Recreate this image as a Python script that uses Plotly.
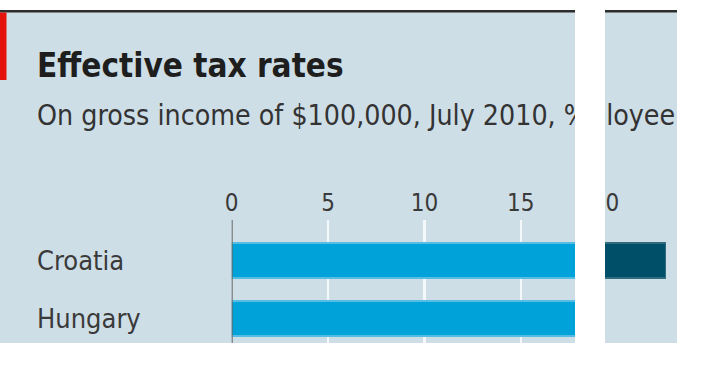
import plotly.graph_objects as go

# ---- data ----
categories = ["Croatia", "Hungary"]
tax_main = [19.5, 18.8]        # light blue segment, %
tax_extra = [3.6, None]        # dark segment, %
tick_vals = [0, 5, 10, 15, 20]
tick_text = ["0", "5", "10", "15", "20"]
title_text = "Effective tax rates"
subtitle_left = "On gross income of $100,000, July 2010, %"
subtitle_right = "ployee"

W, H = 707, 383
BG = "#cedee7"
FONT = "Liberation Sans Narrow, DejaVu Sans Condensed, Arial Narrow, sans-serif"


def px(x):
    return x / W


def py(y):
    return 1 - y / H


fig = go.Figure()
# the chart is shown as two spliced pieces: left (x) and right (x2)
for xa in ["x", "x2"]:
    fig.add_trace(go.Bar(
        y=categories, x=tax_main, orientation="h", width=0.6, xaxis=xa, yaxis="y",
        marker=dict(color="#00a2da", line=dict(color="#55bde3", width=1.5)),
        showlegend=False, hoverinfo="skip",
    ))
    fig.add_trace(go.Bar(
        y=categories, x=tax_extra, orientation="h", width=0.6, xaxis=xa, yaxis="y",
        marker=dict(color="#004f69", line=dict(color="#2f6c80", width=1.5)),
        showlegend=False, hoverinfo="skip",
    ))

scale = 19.27  # px per percentage point
x0_px, x_cut = 231.7, 575
x2_start_px, x2_end_px, x2_start_val = 605, 677, 19.97

axis_common = dict(
    side="top", tickvals=tick_vals, ticktext=tick_text,
    showgrid=True, gridcolor="#f4f8fa", gridwidth=2.5,
    zeroline=False, showline=False, ticks="", ticklabelstandoff=3,
    tickfont=dict(family=FONT, size=24, color="#3a3a3a"),
    fixedrange=True, automargin=False,
)
fig.update_layout(
    xaxis=dict(domain=[px(x0_px), px(x_cut)],
               range=[0, (x_cut - x0_px) / scale], anchor="y", **axis_common),
    xaxis2=dict(domain=[px(x2_start_px), px(x2_end_px)],
                range=[x2_start_val, x2_start_val + (x2_end_px - x2_start_px) / scale],
                anchor="y", **axis_common),
    yaxis=dict(domain=[py(343), py(220)],
               range=[1.422, -0.698], type="category",
               showticklabels=False, showgrid=False, zeroline=False, ticks="",
               fixedrange=True, automargin=False),
)

shapes = [
    # background panel
    dict(type="rect", xref="paper", yref="paper", x0=0, x1=1, y0=py(343), y1=py(11),
         fillcolor=BG, line_width=0, layer="below"),
    # zero line
    dict(type="line", xref="x", yref="paper", x0=0, x1=0, y0=py(343), y1=py(220),
         line=dict(color="#6b6b6b", width=2), layer="above"),
    # top rule
    dict(type="rect", xref="paper", yref="paper", x0=0, x1=1, y0=py(12.5), y1=py(10),
         fillcolor="#2d2d2d", line_width=0, layer="above"),
    # red tab
    dict(type="rect", xref="paper", yref="paper", x0=0, x1=px(6.5), y0=py(80), y1=py(12.5),
         fillcolor="#e3120b", line_width=0, layer="above"),
    # bottom white
    dict(type="rect", xref="paper", yref="paper", x0=0, x1=1, y0=0, y1=py(343),
         fillcolor="white", line_width=0, layer="above"),
]

annotations = [
    dict(text="<b>" + title_text + "</b>", xref="paper", yref="paper",
         x=px(35), y=py(66), xanchor="left", yanchor="middle", showarrow=False,
         font=dict(family=FONT, size=33, color="#1e1e1e")),
    dict(text=subtitle_left, xref="paper", yref="paper",
         x=px(35), y=py(115), xanchor="left", yanchor="middle", showarrow=False,
         font=dict(family=FONT, size=28.3, color="#333333")),
    dict(text=subtitle_right, xref="paper", yref="paper",
         x=px(677), y=py(115), xanchor="right", yanchor="middle", showarrow=False,
         font=dict(family=FONT, size=28.3, color="#333333")),
]
for cat in categories:
    annotations.append(dict(
        text=cat, xref="paper", yref="y", x=px(35), y=cat,
        xanchor="left", yanchor="middle", showarrow=False,
        font=dict(family=FONT, size=27, color="#3a3a3a")))

# white cut-outs (drawn on top of everything)
for xa, xb in [(575, 605), (677, 707)]:
    annotations.append(dict(
        text=" ", xref="paper", yref="paper", x=px(xa), y=1,
        xanchor="left", yanchor="top", showarrow=False,
        width=xb - xa, height=H, bgcolor="white", borderpad=0, borderwidth=0))

fig.update_layout(
    width=W, height=H, margin=dict(l=0, r=0, t=0, b=0, autoexpand=False),
    paper_bgcolor="white", plot_bgcolor="rgba(0,0,0,0)",
    barmode="stack", bargap=0.4,
    shapes=shapes, annotations=annotations,
    font=dict(family=FONT),
)

fig.write_html(
    "out.html",
    config={"displayModeBar": False, "staticPlot": True},
    post_script="document.body.style.margin='0';document.body.style.overflow='hidden';",
)
